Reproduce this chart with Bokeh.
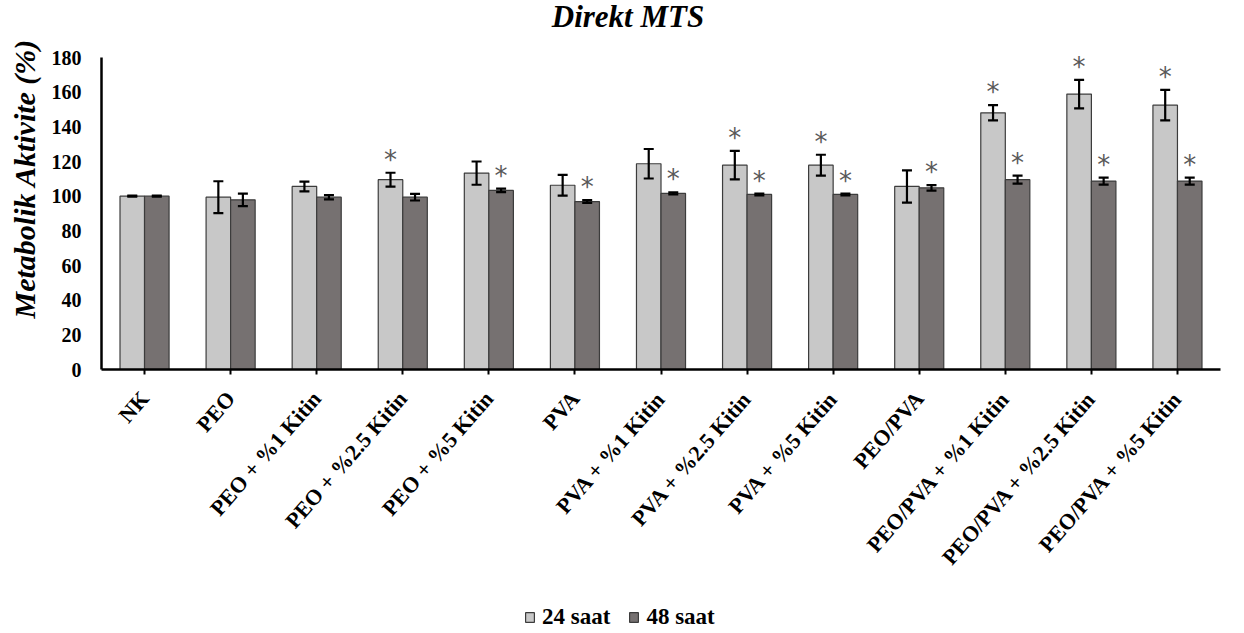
from math import radians
from bokeh.plotting import figure
from bokeh.layouts import column
from bokeh.models import (ColumnDataSource, FactorRange, Range1d, Whisker, Title, Label,
                          Legend, LegendItem, TeeHead)
from bokeh.transform import dodge
from bokeh.core.properties import value
from bokeh.embed import file_html
from bokeh.resources import INLINE

# ---------------- data ----------------
categories = ["NK", "PEO", "PEO + %1 Kitin", "PEO + %2.5 Kitin", "PEO + %5 Kitin",
              "PVA", "PVA + %1 Kitin", "PVA + %2.5 Kitin", "PVA + %5 Kitin",
              "PEO/PVA", "PEO/PVA + %1 Kitin", "PEO/PVA + %2.5 Kitin", "PEO/PVA + %5 Kitin"]
mean24 = [100.0, 99.4, 105.6, 109.5, 113.3, 106.3, 118.7, 117.9, 117.9, 105.6, 148.1, 158.9, 152.5]
sd24 = [0.3, 9.2, 2.8, 4.0, 6.7, 6.0, 8.5, 8.2, 6.0, 9.3, 4.4, 8.2, 8.8]
mean48 = [100.0, 97.9, 99.4, 99.4, 103.3, 96.9, 101.6, 101.0, 101.0, 104.8, 109.5, 108.7, 108.7]
sd48 = [0.3, 3.6, 1.2, 1.9, 1.0, 0.8, 0.6, 0.5, 0.5, 1.6, 2.3, 2.0, 2.0]
sig24 = [False, False, False, True, False, False, False, True, True, False, True, True, True]
sig48 = [False, False, False, False, True, True, True, True, True, True, True, True, True]
series_labels = ["24 saat", "48 saat"]
y_ticks = [0, 20, 40, 60, 80, 100, 120, 140, 160, 180]
title_text = "Direkt MTS"
y_label_text = "Metabolik Aktivite (%)"

# ---------------- styling / layout ----------------
LIGHT = "#C8C8C8"
DARK = "#767171"
EDGE = "#3c3c3c"
SERIF = "Liberation Serif"
OFF = 0.1425
BW = 0.285
MAIN_H = 596
LEG_H = 633 - MAIN_H
FRAME_H = 369          # frame spans from the top of the figure down to the x axis
AXIS_H = 312           # pixels used by the 0-180 axis
Y_TOP = 180 * FRAME_H / AXIS_H   # headroom above 180 holds the title inside the frame

src = ColumnDataSource(dict(
    cat=categories, m24=mean24, m48=mean48,
    up24=[m + s for m, s in zip(mean24, sd24)], lo24=[m - s for m, s in zip(mean24, sd24)],
    up48=[m + s for m, s in zip(mean48, sd48)], lo48=[m - s for m, s in zip(mean48, sd48)],
))

p = figure(x_range=FactorRange(*categories), y_range=Range1d(0, Y_TOP),
           width=1244, height=MAIN_H, output_backend="svg", toolbar_location=None,
           min_border_left=101, min_border_right=24, min_border_top=0,
           min_border_bottom=MAIN_H - FRAME_H)
p.title.text = ""

bar_style = dict(line_color=EDGE, line_width=1.2)
r24 = p.vbar(x=dodge("cat", -OFF, range=p.x_range), top="m24", width=BW, source=src,
             fill_color=LIGHT, **bar_style)
r48 = p.vbar(x=dodge("cat", OFF, range=p.x_range), top="m48", width=BW, source=src,
             fill_color=DARK, **bar_style)

for off, up, lo in [(-OFF, "up24", "lo24"), (OFF, "up48", "lo48")]:
    w = Whisker(source=src, base=dodge("cat", off, range=p.x_range), upper=up, lower=lo,
                line_color="black", line_width=2.2, level="overlay",
                upper_head=TeeHead(size=10, line_width=2.2, line_color="black"),
                lower_head=TeeHead(size=10, line_width=2.2, line_color="black"))
    p.add_layout(w)

# significance stars
for off, ups, sig in [(-OFF, src.data["up24"], sig24), (OFF, src.data["up48"], sig48)]:
    cats = [c for c, s in zip(categories, sig) if s]
    ys = [u for u, s in zip(ups, sig) if s]
    ssrc = ColumnDataSource(dict(cat=cats, y=ys, t=["*"] * len(cats)))
    p.text(x=dodge("cat", off, range=p.x_range), y="y", text="t", source=ssrc,
           text_font=value("DejaVu Sans"), text_font_size="26px", text_color="#595959",
           text_align="center", text_baseline="alphabetic", y_offset=-13, level="overlay")

# axes
p.xgrid.grid_line_color = None
p.ygrid.grid_line_color = None
p.outline_line_color = None

for ax in (p.xaxis, p.yaxis):
    ax.axis_line_width = 2.5
    ax.axis_line_color = "black"
    ax.major_label_text_font = SERIF
    ax.major_label_text_font_style = "bold"
    ax.major_label_text_color = "black"

p.xaxis.major_label_text_font_size = "22px"
p.xaxis.major_label_orientation = radians(49)
p.xaxis.major_tick_out = 5
p.xaxis.major_tick_in = 0
p.xaxis.major_tick_line_width = 2
p.xaxis.major_label_standoff = 20

p.yaxis.bounds = (0, 180)
p.yaxis.major_label_text_font_size = "20px"
p.yaxis.ticker = y_ticks
p.yaxis.major_tick_line_color = None
p.yaxis.minor_tick_line_color = None
p.yaxis.major_label_standoff = 14

# chart title (inside the headroom of the frame)
p.add_layout(Label(x=526.5, y=FRAME_H - 16, x_units="screen", y_units="screen",
                   text=title_text, text_font=SERIF, text_font_style="bold italic",
                   text_font_size="31px", text_align="center", text_baseline="alphabetic",
                   text_color="black"))

# y axis label as a left-side title
p.add_layout(Title(text=y_label_text, align="left", offset=51, standoff=12,
                   vertical_align="top",
                   text_font=SERIF, text_font_style="bold italic", text_font_size="30px",
                   text_color="black"), "left")

# ---------------- legend strip ----------------
lg = figure(width=1244, height=LEG_H, x_range=Range1d(0, 1), y_range=Range1d(0, 1),
            output_backend="svg", toolbar_location=None,
            x_axis_location=None, y_axis_location=None,
            min_border_left=0, min_border_right=0, min_border_top=0, min_border_bottom=0)
lg.title.text = ""
lg.grid.grid_line_color = None
lg.outline_line_color = None
# key renderers sit below the visible range: only their legend swatches show
e24 = lg.vbar(x=[0.5], bottom=[-3], top=[-2], width=0.1, fill_color=LIGHT, **bar_style)
e48 = lg.vbar(x=[0.5], bottom=[-3], top=[-2], width=0.1, fill_color=DARK, **bar_style)
legend = Legend(items=[LegendItem(label=series_labels[0], renderers=[e24]),
                       LegendItem(label=series_labels[1], renderers=[e48])],
                location=(423, 3), orientation="horizontal",
                glyph_width=11, glyph_height=12, label_standoff=7, spacing=18,
                label_text_font=SERIF, label_text_font_style="bold",
                label_text_font_size="23px", label_text_color="black",
                padding=0, margin=0,
                border_line_color=None, background_fill_alpha=0)
lg.add_layout(legend)

open("out.html", "w").write(file_html(column(p, lg, spacing=0), INLINE))
